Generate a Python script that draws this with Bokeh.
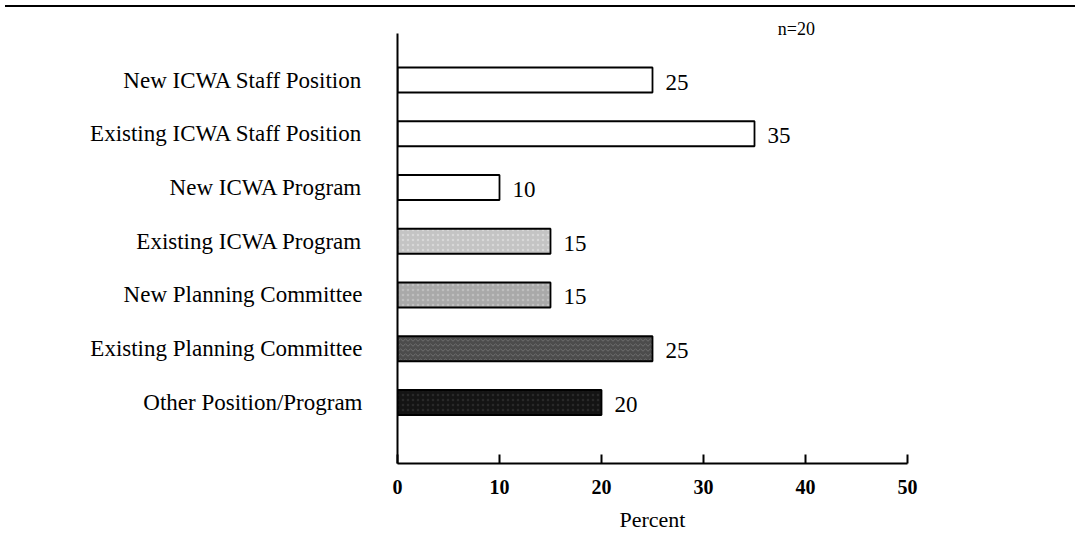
from bokeh.plotting import figure
from bokeh.models import Range1d, FixedTicker, Label, ColumnDataSource, Div
from bokeh.layouts import column
from bokeh.core.properties import value
from bokeh.embed import file_html
from bokeh.resources import INLINE

categories = ["New ICWA Staff Position", "Existing ICWA Staff Position", "New ICWA Program",
              "Existing ICWA Program", "New Planning Committee", "Existing Planning Committee",
              "Other Position/Program"]
values = [25, 35, 10, 15, 15, 25, 20]
fills = ["#ffffff", "#ffffff", "#ffffff", "#c4c4c4", "#a9a9a9", "#4c4c4c", "#141414"]
hatches = [" ", " ", " ", "dot", "dot", "horizontal_wave", "dot"]
hatch_colors = ["#ffffff", "#ffffff", "#ffffff", "#e8e8e8", "#d0d0d0", "#8a8a8a", "#3a3a3a"]
x_ticks = [0, 10, 20, 30, 40, 50]
n_note = "n=20"
x_title = "Percent"

positions = list(range(len(categories), 0, -1))
src = ColumnDataSource(dict(y=positions, v=values, fill=fills, hatch=hatches,
                            hcol=hatch_colors, lab=[str(v) for v in values]))

SERIF = "Liberation Serif"

p = figure(width=1070, height=527, output_backend="svg", toolbar_location=None,
           x_range=Range1d(0, 50), y_range=Range1d(-0.135, 8.256),
           min_border_left=397, min_border_right=163, min_border_top=0, min_border_bottom=76)
p.outline_line_color = None
p.grid.visible = False
p.background_fill_color = "white"

p.hbar(y="y", right="v", left=0, height=0.465, source=src, fill_color="fill",
       line_color="black", line_width=1.8, hatch_pattern="hatch", hatch_color="hcol",
       hatch_scale=5, hatch_weight=1, hatch_alpha=0.55)

p.text(x="v", y="y", text="lab", source=src, x_offset=13, y_offset=2,
       text_baseline="middle", text_align="left", text_font=value(SERIF),
       text_font_size="23px", text_color="black")

# x axis
xa = p.xaxis[0]
xa.ticker = FixedTicker(ticks=x_ticks)
xa.axis_line_width = 2
xa.axis_line_color = "black"
xa.major_tick_in = 9
xa.major_tick_out = 0
xa.major_tick_line_width = 2
xa.minor_tick_line_color = None
xa.major_label_text_font = SERIF
xa.major_label_text_font_size = "20px"
xa.major_label_text_font_style = "bold"
xa.major_label_text_color = "black"
xa.major_label_standoff = 16
xa.axis_label = x_title
xa.axis_label_text_font = SERIF
xa.axis_label_text_font_size = "22px"
xa.axis_label_text_font_style = "normal"
xa.axis_label_text_color = "black"
xa.axis_label_standoff = 10

# y axis
ya = p.yaxis[0]
ya.ticker = FixedTicker(ticks=positions)
ya.bounds = (-0.135, 7.865)
ya.major_label_overrides = {pos: c for pos, c in zip(positions, categories)}
ya.axis_line_width = 2
ya.axis_line_color = "black"
ya.major_tick_in = 0
ya.major_tick_out = 0
ya.minor_tick_line_color = None
ya.major_label_text_font = SERIF
ya.major_label_text_font_size = "23px"
ya.major_label_text_color = "black"
ya.major_label_standoff = 35

p.add_layout(Label(x=39.1, y=7.94, text=n_note, text_align="center", text_baseline="middle",
                   text_font=SERIF, text_font_size="18px", text_color="black"))

rule = Div(text="", width=1070, height=2, styles={"background-color": "black"})
layout = column(rule, p, spacing=0)

open("out.html", "w").write(file_html(layout, INLINE))
